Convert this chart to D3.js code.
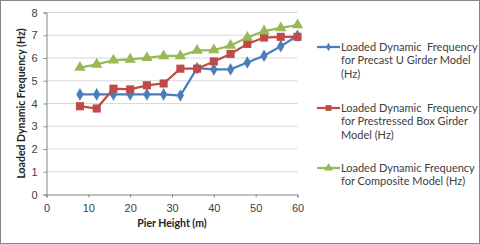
<!DOCTYPE html>
<html lang="en">
<head>
  <meta charset="UTF-8">
  <title>Loaded Dynamic Frequency vs Pier Height</title>
  <script src="https://d3js.org/d3.v7.min.js"></script>
  <style>
    body { margin: 0; background: #fff; }
    svg { display: block; font-family: Lato, "Open Sans", sans-serif; }
    .grid line { stroke: #d9d9d9; stroke-width: 1; }
    .axis path, .axis line { stroke: #868686; }
    .axis text { font-size: 11px; fill: #404040; }
    .title { font-size: 10.5px; font-weight: bold; fill: #222; }
    .legend text { font-size: 11px; fill: #404040; white-space: pre; }
  </style>
</head>
<body>
  <svg id="chart" width="480" height="244"></svg>
  <script>
    // data
    const pierHeight = [8, 12, 16, 20, 24, 28, 32, 36, 40, 44, 48, 52, 56, 60];
    const precastU = [4.4, 4.4, 4.4, 4.4, 4.4, 4.4, 4.35, 5.55, 5.5, 5.5, 5.8, 6.1, 6.52, 6.98];
    const prestressedBox = [3.88, 3.78, 4.65, 4.62, 4.8, 4.88, 5.53, 5.53, 5.85, 6.18, 6.62, 6.9, 6.93, 6.93];
    const composite = [5.58, 5.72, 5.9, 5.94, 6.01, 6.09, 6.09, 6.33, 6.35, 6.55, 6.9, 7.18, 7.32, 7.45];
    const xTicks = [0, 10, 20, 30, 40, 50, 60];
    const yTicks = [0, 1, 2, 3, 4, 5, 6, 7, 8];

    const series = [
      { name: ["Loaded Dynamic  Frequency", "for Precast U Girder Model", "(Hz)"], values: precastU, color: "#4a7ebb", shape: "diamond" },
      { name: ["Loaded Dynamic  Frequency", "for Prestressed Box Girder", "Model (Hz)"], values: prestressedBox, color: "#be4b48", shape: "square" },
      { name: ["Loaded Dynamic Frequency", "for Composite Model (Hz)"], values: composite, color: "#98b954", shape: "triangle" }
    ];

    const width = 480, height = 244;
    const svg = d3.select("#chart");

    // outer border
    svg.append("rect")
      .attr("x", 0.5).attr("y", 0.5)
      .attr("width", width - 1).attr("height", height - 1)
      .attr("fill", "#fff").attr("stroke", "#868686");

    const x = d3.scaleLinear().domain([0, 60]).range([46.5, 297.5]);
    const y = d3.scaleLinear().domain([0, 8]).range([194.5, 12.5]);

    // gridlines
    svg.append("g").attr("class", "grid")
      .selectAll("line")
      .data(yTicks.filter(d => d > 0))
      .enter().append("line")
      .attr("x1", x(0)).attr("x2", x(60))
      .attr("y1", d => y(d)).attr("y2", d => y(d));

    svg.append("g").attr("class", "axis")
      .attr("transform", `translate(0,${y(0)})`)
      .call(d3.axisBottom(x).tickValues(xTicks).tickSize(3).tickPadding(7).tickFormat(d3.format("d")));

    svg.append("g").attr("class", "axis")
      .attr("transform", `translate(${x(0)},0)`)
      .call(d3.axisLeft(y).tickValues(yTicks).tickSize(3).tickPadding(6).tickFormat(d3.format("d")));

    // axis titles
    svg.append("text").attr("class", "title")
      .attr("x", (x(0) + x(60)) / 2).attr("y", 227)
      .attr("text-anchor", "middle")
      .text("Pier Height (m)");

    svg.append("text").attr("class", "title")
      .attr("transform", `translate(25,${y(4)}) rotate(-90)`)
      .attr("text-anchor", "middle")
      .text("Loaded Dynamic Frequency (Hz)");

    const shapeType = { diamond: d3.symbolDiamond, square: d3.symbolSquare, triangle: d3.symbolTriangle };
    const shapeSize = { diamond: 46, square: 66, triangle: 56 };

    const line = d3.line()
      .x((d, i) => x(pierHeight[i]))
      .y(d => y(d));

    series.forEach(s => {
      svg.append("path")
        .datum(s.values)
        .attr("fill", "none")
        .attr("stroke", s.color)
        .attr("stroke-width", 2.25)
        .attr("d", line);

      svg.append("g").selectAll("path")
        .data(s.values)
        .enter().append("path")
        .attr("d", d3.symbol().type(shapeType[s.shape]).size(shapeSize[s.shape]))
        .attr("fill", s.color)
        .attr("transform", (d, i) => `translate(${x(pierHeight[i])},${y(d)})`);
    });

    // legend
    const legendY = [47, 108, 168];
    const legend = svg.append("g").attr("class", "legend");
    series.forEach((s, k) => {
      const g = legend.append("g").attr("transform", `translate(317,${legendY[k]})`);
      g.append("line")
        .attr("x1", 0).attr("x2", 23)
        .attr("stroke", s.color).attr("stroke-width", 2.25);
      g.append("path")
        .attr("d", d3.symbol().type(shapeType[s.shape]).size(s.shape === "diamond" ? 20 : 34))
        .attr("fill", s.color)
        .attr("transform", "translate(11.5,0)");
      s.name.forEach((t, j) => {
        g.append("text")
          .attr("x", 24).attr("y", j * 13.3 + 4)
          .attr("xml:space", "preserve")
          .text(t);
      });
    });
  </script>
</body>
</html>
